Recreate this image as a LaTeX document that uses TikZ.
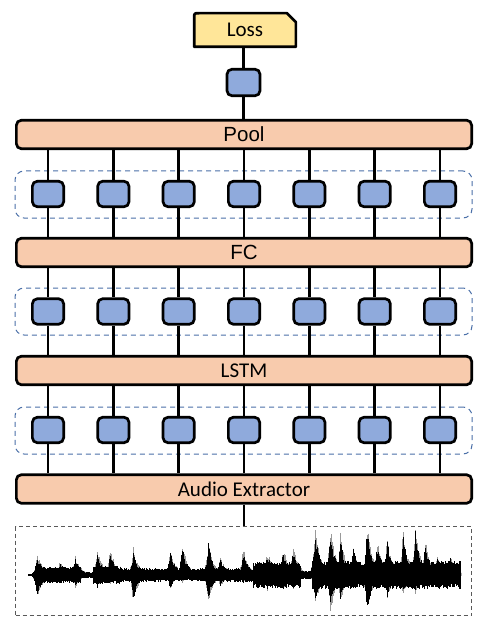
\documentclass[tikz,border=0pt]{standalone}
\usepackage{fontspec}
\setmainfont{Carlito}
\newfontfamily\arialf{Liberation Sans}
\usetikzlibrary{backgrounds,calc}
\definecolor{peach}{HTML}{F8CBAD}
\definecolor{cellblue}{HTML}{8FAADC}
\definecolor{lossy}{HTML}{FFE699}
\definecolor{grpblue}{HTML}{4A6FA8}
\definecolor{wavegray}{HTML}{595959}
\tikzset{
  bar/.style={draw, line width=2.7pt, fill=peach, rounded corners=5pt, minimum width=455.3pt, minimum height=28.5pt, inner sep=0pt, font=\fontsize{21}{21}\selectfont},
  cell/.style={draw, line width=2.7pt, fill=cellblue, rounded corners=5pt, minimum width=31.3pt, minimum height=25.5pt, inner sep=0pt},
  grp/.style={draw=grpblue, dash pattern=on 5pt off 4pt, line width=1pt, rounded corners=9pt, minimum width=457pt, minimum height=47pt, inner sep=0pt},
  conn/.style={line width=2.7pt},
  wavel/.style={line width=0.9pt, black},
  waveg/.style={line width=0.8pt, black!40}
}
\begin{document}
\begin{tikzpicture}[x=1pt,y=-1pt]
\useasboundingbox (0,0) rectangle (489,628);
% dashed groups
\node[grp] (g1) at (243.5,194.5) {};
\node[grp] (g2) at (243.5,311.5) {};
\node[grp] (g3) at (243.5,430.5) {};
% bars
\node[bar] (pool) at (244,134.5) {\arialf\fontsize{20.5}{20.5}\selectfont Pool};
\node[bar] (fc) at (244,252.5) {\arialf\fontsize{20.5}{20.5}\selectfont FC};
\node[bar] (lstm) at (244,370.5) {LSTM};
\node[bar] (audio) at (244,489) {Audio Extractor};
% cells
\foreach \r/\yy in {1/194,2/311.5,3/430} {
  \foreach \i in {0,...,6} {
    \pgfmathsetmacro\cx{48+65.333*\i}
    \node[cell] (c\r-\i) at (\cx,\yy) {};
  }
}
% top cell and loss
\node[cell, minimum width=33pt, minimum height=26.5pt] (tc) at (243.5,82.5) {};
\node[minimum width=101.3pt, minimum height=33.3pt, inner sep=0pt, font=\fontsize{21}{21}\selectfont] (loss) at (245,30) {Loss};
\begin{scope}[on background layer]
  \draw[line width=2.7pt, fill=lossy, line join=round]
    (loss.south west) -- ($(loss.north west)+(0,5)$) .. controls (loss.north west) .. ($(loss.north west)+(5,0)$)
    -- ($(loss.north east)+(-9,0)$) -- ($(loss.north east)+(0,9)$) -- (loss.south east) -- cycle;
\end{scope}
% wave box
\node[draw=wavegray, dash pattern=on 4pt off 3pt, line width=1.3pt, minimum width=456pt, minimum height=89pt, inner sep=0pt] (wave) at (243.5,571) {};
% connectors
\draw[conn] (loss.south -| tc) -- (tc.north);
\draw[conn] (tc.south) -- (pool.north -| tc);
\foreach \r/\up/\dn in {1/pool/fc, 2/fc/lstm, 3/lstm/audio} {
  \foreach \i in {0,...,6} {
    \draw[conn] (\up.south -| c\r-\i) -- (c\r-\i.north);
    \draw[conn] (c\r-\i.south) -- (\dn.north -| c\r-\i);
  }
}
\draw[conn] (audio.south) -- (audio.south |- wave.north);
% waveform
\pgfmathsetseed{7}
\begin{scope}
\clip (27,522) rectangle (461,622);
\foreach \c/\a/\b in {37/20/22, 60/15/8, 75/18/12, 97/23/13, 110/25/8, 133/25/25, 170/25/15, 182/30/7, 208/33/25, 220/18/12, 243/25/8, 267/22/15, 283/25/15, 293/27/15, 315/43/28, 330/47/35, 340/38/25, 353/28/12, 367/47/38, 377/32/15, 387/35/22, 403/42/18, 415/47/18, 425/32/12, 437/18/8, 450/18/8} {
  \foreach \d in {-5,-4.5,...,16} {
    \pgfmathsetmacro\f{(\d<0)*exp(\d/2)+(\d>=0)*exp(-\d/5.5)}
    \pgfmathsetmacro\u{\a*\f*(0.6+0.4*rnd)}
    \pgfmathsetmacro\w{\b*\f*(0.6+0.4*rnd)}
    \draw[waveg] (\c+\d,575-1.15*\u) -- (\c+\d,575+1.15*\w);
  }
}
\foreach \xa/\xb/\h in {28/37/1, 37/80/8, 80/93/3, 93/120/9, 120/160/7, 160/200/6, 200/253/7, 253/300/13, 300/312/4, 312/460/14} {
  \pgfmathsetmacro\n{int((\xb-\xa)/0.5)}
  \foreach \k in {0,...,\n} {
    \pgfmathsetmacro\xx{\xa+0.5*\k}
    \pgfmathsetmacro\u{\h*(0.65+0.35*rnd)}
    \pgfmathsetmacro\w{\h*(0.65+0.35*rnd)}
    \draw[wavel] (\xx,575-\u) -- (\xx,575+\w);
  }
}
\foreach \c/\a/\b in {37/20/22, 60/15/8, 75/18/12, 97/23/13, 110/25/8, 133/25/25, 170/25/15, 182/30/7, 208/33/25, 220/18/12, 243/25/8, 267/22/15, 283/25/15, 293/27/15, 315/43/28, 330/47/35, 340/38/25, 353/28/12, 367/47/38, 377/32/15, 387/35/22, 403/42/18, 415/47/18, 425/32/12, 437/18/8, 450/18/8} {
  \foreach \d in {-5,-4.5,...,16} {
    \pgfmathsetmacro\f{(\d<0)*exp(\d/2)+(\d>=0)*exp(-\d/5.5)}
    \pgfmathsetmacro\u{\a*\f*(0.6+0.4*rnd)}
    \pgfmathsetmacro\w{\b*\f*(0.6+0.4*rnd)}
    \draw[wavel] (\c+\d,575-\u) -- (\c+\d,575+\w);
  }
}
\draw[wavel, line width=1.4pt] (460,561) -- (460,589);
\end{scope}
\end{tikzpicture}
\end{document}
